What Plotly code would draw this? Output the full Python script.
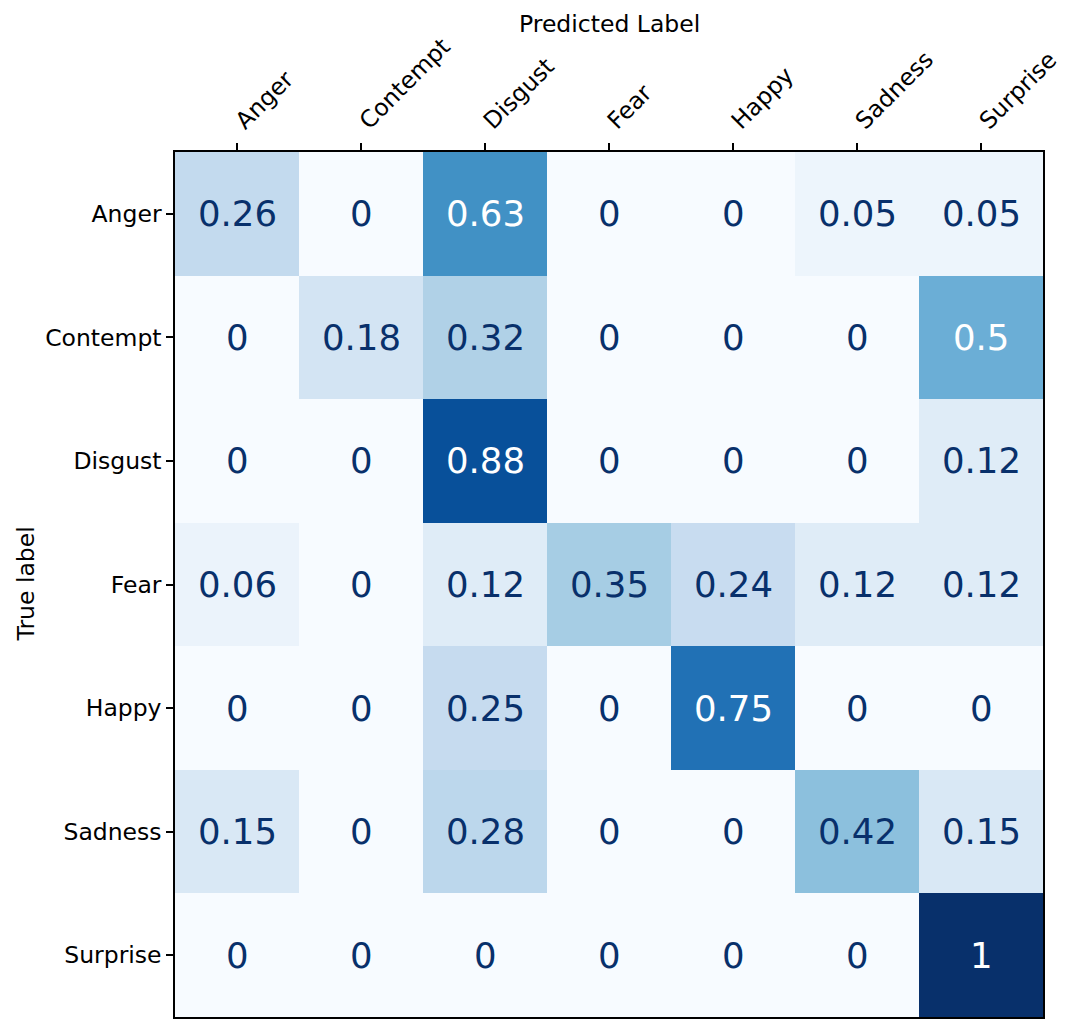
import plotly.graph_objects as go
import plotly.colors as pc

labels = ["Anger", "Contempt", "Disgust", "Fear", "Happy", "Sadness", "Surprise"]
row_anger = [0.26, 0, 0.63, 0, 0, 0.05, 0.05]
row_contempt = [0, 0.18, 0.32, 0, 0, 0, 0.5]
row_disgust = [0, 0, 0.88, 0, 0, 0, 0.12]
row_fear = [0.06, 0, 0.12, 0.35, 0.24, 0.12, 0.12]
row_happy = [0, 0, 0.25, 0, 0.75, 0, 0]
row_sadness = [0.15, 0, 0.28, 0, 0, 0.42, 0.15]
row_surprise = [0, 0, 0, 0, 0, 0, 1]
z = [row_anger, row_contempt, row_disgust, row_fear, row_happy, row_sadness, row_surprise]

blues = pc.sequential.Blues
scale = [[i / (len(blues) - 1), c] for i, c in enumerate(blues)]

fig = go.Figure(go.Heatmap(z=z, x=labels, y=labels, colorscale=scale, zmin=0, zmax=1,
                           showscale=False, xgap=0, ygap=0, hoverinfo="skip"))

thresh = max(max(r) for r in z) / 2
for i, row in enumerate(z):
    for j, v in enumerate(row):
        txt = f"{v:g}"
        fig.add_annotation(x=labels[j], y=labels[i], text=txt, showarrow=False,
                           font=dict(size=35.5, family="DejaVu Sans",
                                     color="white" if v >= thresh else "#08306b"))

# axis titles
fig.add_annotation(xref="paper", yref="paper", x=0.5, y=1, yanchor="middle",
                   yshift=128, text="Predicted Label", showarrow=False,
                   font=dict(size=23.5, family="DejaVu Sans", color="black"))
fig.add_annotation(xref="paper", yref="paper", x=0, y=0.5, xanchor="center",
                   xshift=-150, text="True label", textangle=-90, showarrow=False,
                   font=dict(size=23.5, family="DejaVu Sans", color="black"))

fig.update_layout(
    width=1063, height=1017,
    margin=dict(l=167, r=28, t=144, b=6),
    paper_bgcolor="white", plot_bgcolor="white",
    font=dict(family="DejaVu Sans", color="black", size=23.5),
)
fig.update_xaxes(side="top", tickangle=-45, ticks="outside", ticklen=7, tickcolor="black",
                 tickwidth=1.5,
                 showline=True, linecolor="black", linewidth=1.5, mirror=True,
                 tickfont=dict(size=23.5), showgrid=False, zeroline=False)
fig.update_yaxes(autorange="reversed", ticks="outside", ticklen=7, tickcolor="black",
                 tickwidth=1.5,
                 showline=True, linecolor="black", linewidth=1.5, mirror=True,
                 tickfont=dict(size=23.5), showgrid=False, zeroline=False)

fig.write_html("out.html")
